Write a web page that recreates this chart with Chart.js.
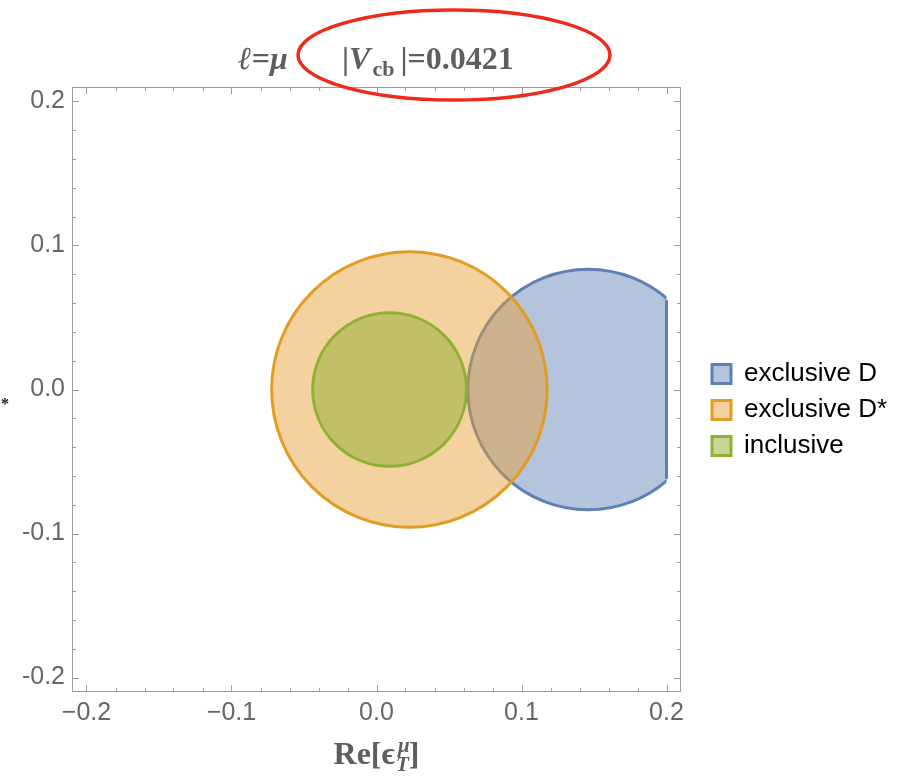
<!DOCTYPE html>
<html>
<head>
<meta charset="utf-8">
<script src="https://cdn.jsdelivr.net/npm/chart.js@4/dist/chart.umd.min.js"></script>
<style>
html,body{margin:0;padding:0;background:#fff;}
#wrap{width:902px;height:779px;position:relative;}
</style>
</head>
<body>
<div id="wrap"><canvas id="c" width="902" height="779"></canvas></div>
<script>
// ---- data ----
const seriesNames = ['exclusive D', 'exclusive D*', 'inclusive'];
const centerX = [0.146, 0.0227, 0.009];   // region centres (Re)
const centerY = [0.0, 0.0, 0.0];          // region centres (Im)
const radii   = [0.083, 0.095, 0.053];    // region radii
const clipMaxX = [0.2, null, null];       // D region is cut at Re = 0.2
const edgeX = [0.2, 0.2];                 // straight cut edge of the D region
const edgeY = [-0.062, 0.062];
const xTicks = [-0.2, -0.1, 0.0, 0.1, 0.2];
const yTicks = [-0.2, -0.1, 0.0, 0.1, 0.2];
const minorTicks = [-0.18, -0.16, -0.14, -0.12, -0.08, -0.06, -0.04, -0.02,
                    0.02, 0.04, 0.06, 0.08, 0.12, 0.14, 0.16, 0.18];
const strokeColors = ['#5e81b5', '#e19c24', '#8fb032'];
const fillColors = ['rgba(94,129,181,0.47)', 'rgba(232,160,50,0.47)', 'rgba(143,176,50,0.5)'];
const drawOrder = [2, 1, 0];

const SANS = "'Liberation Sans', Arial, Helvetica, sans-serif";
const SERIF = "'Liberation Serif', 'DejaVu Serif', 'Times New Roman', serif";
const LEGEND_W = 200;

function fmt(v, dash) {
  const a = Math.abs(v) < 1e-9 ? 0 : v;
  return (a < 0 ? dash : '') + Math.abs(a).toFixed(1);
}
function radiusPx(chart, cx, r) {
  const xs = chart.scales.x;
  if (!xs) return 0;
  const p = Math.abs(xs.getPixelForValue(cx + r) - xs.getPixelForValue(cx));
  return isFinite(p) ? p : 0;
}

const decor = {
  id: 'decor',
  beforeLayout(chart) {
    const lg = chart.legend;
    if (lg && !lg._fixedW) {
      const f = lg.fit;
      lg.fit = function () { f.call(this); this.width = LEGEND_W; };
      lg._fixedW = true;
    }
  },
  beforeDatasetDraw(chart, args) {
    const cm = clipMaxX[args.index];
    if (cm !== undefined && cm !== null) {
      const a = chart.chartArea, c = chart.ctx;
      c.save();
      c.beginPath();
      c.rect(a.left, a.top, chart.scales.x.getPixelForValue(cm) - a.left, a.bottom - a.top);
      c.clip();
    }
  },
  afterDatasetDraw(chart, args) {
    const cm = clipMaxX[args.index];
    if (cm !== undefined && cm !== null) chart.ctx.restore();
  },
  afterDraw(chart) {
    const c = chart.ctx, a = chart.chartArea, xs = chart.scales.x, ys = chart.scales.y;
    c.save();
    // frame
    c.strokeStyle = '#9c9c9c';
    c.lineWidth = 1;
    c.strokeRect(Math.round(a.left) + 0.5, Math.round(a.top) + 0.5,
                 Math.round(a.right - a.left) - 1, Math.round(a.bottom - a.top) - 1);
    // ticks, pointing inward, on all four sides
    const tick = (v, len) => {
      const px = Math.round(xs.getPixelForValue(v)) + 0.5;
      const py = Math.round(ys.getPixelForValue(v)) + 0.5;
      c.beginPath();
      c.moveTo(px, a.bottom); c.lineTo(px, a.bottom - len);
      c.moveTo(px, a.top); c.lineTo(px, a.top + len);
      c.moveTo(a.left, py); c.lineTo(a.left + len, py);
      c.moveTo(a.right, py); c.lineTo(a.right - len, py);
      c.stroke();
    };
    xTicks.forEach(v => tick(v, 7));
    minorTicks.forEach(v => tick(v, 4));

    // title
    c.fillStyle = '#5e5e5e';
    c.textBaseline = 'alphabetic';
    c.textAlign = 'left';
    const base = 69;
    let x = 238;
    const run = (t, font, dy) => {
      c.font = font;
      c.fillText(t, x, base + (dy || 0));
      x += c.measureText(t).width;
    };
    const B = 'bold 32px ' + SERIF, BI = 'italic bold 32px ' + SERIF, BS = 'bold 22px ' + SERIF;
    run('\u2113', BI); run('=', B); run('\u03bc', BI);
    x = 342;
    run('|', B); run('V', BI); x += 2; run('cb', BS, 7); x += 6; run('|=0.0421', B);

    // red ellipse annotation
    c.strokeStyle = '#ef2a1a';
    c.lineWidth = 3.5;
    c.beginPath();
    c.ellipse(454, 55, 156, 45, 0, 0, Math.PI * 2);
    c.stroke();

    // x axis title Re[eps_T^mu]
    c.fillStyle = '#5e5e5e';
    const xb = 764;
    const BF = 'bold 32px ' + SERIF, SF = 'italic bold 21px ' + SERIF;
    c.font = BF;
    const w1 = c.measureText('Re[').width;
    const we = c.measureText('\u03f5').width;
    const w3 = c.measureText(']').width;
    c.font = SF;
    const ws = Math.max(c.measureText('T').width, c.measureText('\u03bc').width);
    const total = w1 + we + 1 + ws + w3;
    x = (a.left + a.right) / 2 - total / 2;
    c.font = BF;
    c.fillText('Re[', x, xb); x += w1;
    c.fillText('\u03f5', x, xb); x += we + 1;
    c.font = SF;
    c.fillText('\u03bc', x + 2, xb - 12);
    c.fillText('T', x, xb + 7);
    x += ws;
    c.font = BF;
    c.fillText(']', x, xb);

    // remnant of the (cropped) vertical axis label
    c.fillStyle = '#222';
    c.font = 'bold 16px ' + SERIF;
    c.textAlign = 'center';
    c.fillText('*', 5, 409);
    c.restore();
  }
};

const datasets = seriesNames.map((name, i) => ({
  label: name,
  data: [{ x: centerX[i], y: centerY[i] }],
  backgroundColor: fillColors[i],
  borderColor: strokeColors[i],
  borderWidth: 3,
  pointStyle: 'circle',
  pointRadius: ctx => radiusPx(ctx.chart, centerX[i], radii[i]),
  pointHoverRadius: ctx => radiusPx(ctx.chart, centerX[i], radii[i]),
  order: drawOrder[i]
}));
datasets.push({
  label: 'edge',
  data: edgeX.map((v, k) => ({ x: v, y: edgeY[k] })),
  showLine: true,
  borderColor: strokeColors[0],
  backgroundColor: strokeColors[0],
  borderWidth: 3,
  pointRadius: 0,
  order: 1.5
});

new Chart(document.getElementById('c'), {
  type: 'scatter',
  data: { datasets },
  plugins: [decor],
  options: {
    responsive: false,
    animation: false,
    events: [],
    layout: { padding: { top: 87, bottom: 46, left: 0, right: 0 } },
    plugins: {
      title: { display: false },
      tooltip: { enabled: false },
      legend: {
        display: true,
        position: 'right',
        labels: {
          boxWidth: 19,
          boxHeight: 19,
          padding: 10,
          color: '#000',
          font: { family: SANS, size: 26 },
          filter: item => item.datasetIndex < seriesNames.length,
          sort: (p, q) => p.datasetIndex - q.datasetIndex
        }
      }
    },
    scales: {
      x: {
        type: 'linear', position: 'bottom', min: -0.21, max: 0.21,
        afterBuildTicks: s => { s.ticks = xTicks.map(v => ({ value: v })); },
        afterFit: s => { s.height = 41; },
        ticks: { callback: v => fmt(v, '\u2212'), color: '#666', font: { family: SANS, size: 25 },
                 padding: 6, maxRotation: 0, autoSkip: false },
        grid: { display: false, drawTicks: false },
        border: { display: false }
      },
      y: {
        type: 'linear', position: 'left', min: -0.21, max: 0.21,
        afterBuildTicks: s => { s.ticks = yTicks.map(v => ({ value: v })); },
        afterFit: s => { s.width = 72; },
        ticks: { callback: v => fmt(v, '-'), color: '#666', font: { family: SANS, size: 25 },
                 padding: 7, autoSkip: false },
        grid: { display: false, drawTicks: false },
        border: { display: false }
      },
      y2: {
        type: 'linear', position: 'right', min: -0.21, max: 0.21,
        afterFit: s => { s.width = 21; },
        ticks: { display: false },
        grid: { display: false, drawTicks: false },
        border: { display: false }
      }
    }
  }
});
</script>
</body>
</html>
